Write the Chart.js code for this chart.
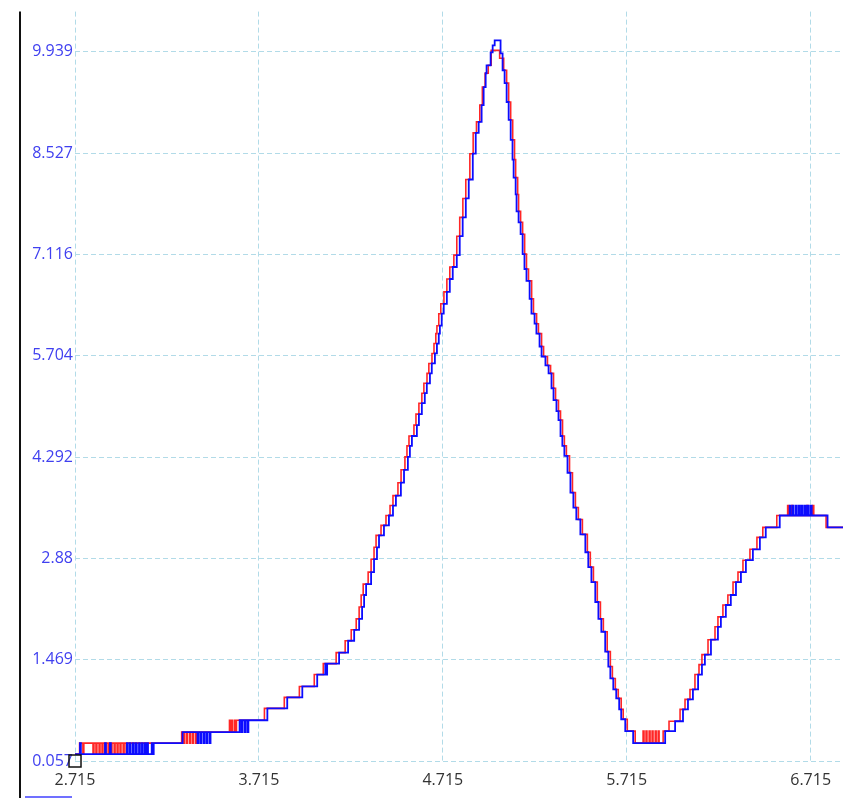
<!DOCTYPE html>
<html>
<head>
<meta charset="utf-8">
<script src="https://cdn.jsdelivr.net/npm/chart.js@4.4.1/dist/chart.umd.min.js"></script>
<style>
  body { margin: 0; background: #fff; }
  #wrap { width: 866px; height: 798px; }
</style>
</head>
<body>
<div id="wrap"><canvas id="canvas" width="866" height="798"></canvas></div>
<script>
// tick values and labels
var xTicks = [2.715, 3.715, 4.715, 5.715, 6.715];
var xTickLabels = ['2.715', '3.715', '4.715', '5.715', '6.715'];
var yTicks = [0.057, 1.469, 2.88, 4.292, 5.704, 7.116, 8.527, 9.939];
var yTickLabels = ['0.057', '1.469', '2.88', '4.292', '5.704', '7.116', '8.527', '9.939'];
var xRange = [2.715, 6.891];
var yRange = [0.057, 10.50];

// cursor marker
var markerPt = [2.715, 0.057];

// blue trace [x, y]
var bluePts = [
  [2.715,0.154],[2.742,0.306],[2.747,0.154],[2.878,0.306],[2.883,0.154],[2.905,0.306],[2.910,0.154],
  [2.997,0.306],[3.002,0.154],[3.013,0.306],[3.018,0.154],[3.030,0.306],[3.035,0.154],[3.046,0.306],[3.051,0.154],
  [3.063,0.306],[3.068,0.154],[3.079,0.306],[3.084,0.154],[3.095,0.306],[3.100,0.154],[3.107,0.306],[3.112,0.154],
  [3.132,0.306],[3.137,0.154],[3.143,0.306],
  [3.300,0.459],[3.381,0.306],[3.386,0.459],[3.397,0.306],[3.402,0.459],[3.414,0.306],[3.419,0.459],[3.430,0.306],
  [3.435,0.459],[3.447,0.306],[3.452,0.459],
  [3.610,0.625],[3.620,0.459],[3.625,0.625],[3.637,0.459],[3.642,0.625],[3.653,0.459],[3.658,0.625],
  [3.761,0.791],[3.869,0.943],[3.951,1.096],[4.032,1.262],[4.076,1.414],[4.081,1.262],[4.086,1.414],[4.151,1.567],
  [4.200,1.733],[4.233,1.885],[4.260,2.038],[4.276,2.204],[4.287,2.370],[4.298,2.522],[4.325,2.689],[4.341,2.869],
  [4.357,3.035],[4.368,3.201],[4.395,3.340],[4.422,3.478],[4.444,3.617],[4.460,3.755],[4.487,3.935],[4.504,4.115],
  [4.525,4.295],[4.536,4.448],[4.547,4.586],[4.574,4.738],[4.585,4.891],[4.601,5.043],[4.617,5.182],[4.628,5.320],
  [4.645,5.459],[4.655,5.597],[4.672,5.736],[4.683,5.874],[4.693,6.013],[4.699,6.123],[4.709,6.290],[4.720,6.428],
  [4.737,6.594],[4.753,6.774],[4.769,6.941],[4.791,7.107],[4.807,7.370],[4.823,7.633],[4.840,7.896],[4.856,8.160],
  [4.878,8.520],[4.894,8.810],[4.910,8.963],[4.926,9.198],[4.937,9.448],[4.948,9.641],[4.953,9.752],[4.975,9.932],
  [4.986,10.029],[4.997,10.098],
  [5.029,9.918],[5.040,9.683],[5.051,9.503],[5.062,9.240],[5.073,8.990],[5.084,8.713],[5.094,8.437],[5.100,8.187],
  [5.111,7.952],[5.116,7.716],[5.127,7.564],[5.138,7.398],[5.149,7.121],[5.159,6.913],[5.170,6.747],[5.187,6.497],
  [5.197,6.290],[5.214,6.151],[5.224,6.013],[5.241,5.833],[5.252,5.694],[5.273,5.569],[5.290,5.459],[5.306,5.251],
  [5.317,5.085],[5.333,4.932],[5.344,4.808],[5.355,4.586],[5.365,4.448],[5.376,4.309],[5.393,4.074],[5.409,3.797],
  [5.425,3.589],[5.441,3.423],[5.463,3.215],[5.490,2.966],[5.506,2.758],[5.523,2.550],[5.544,2.273],[5.561,2.038],
  [5.577,1.858],[5.598,1.581],[5.615,1.373],[5.626,1.207],[5.642,1.054],[5.658,0.930],[5.674,0.777],[5.685,0.639],
  [5.707,0.473],[5.750,0.306],
  [5.924,0.473],[5.978,0.611],[6.021,0.777],[6.048,0.916],[6.075,1.054],[6.103,1.262],[6.124,1.400],[6.140,1.539],
  [6.173,1.747],[6.211,1.927],[6.227,2.065],[6.254,2.231],[6.281,2.370],[6.309,2.550],[6.336,2.689],[6.363,2.855],
  [6.401,3.007],[6.439,3.173],[6.471,3.312],[6.547,3.478],
  [6.601,3.617],[6.606,3.478],[6.617,3.617],[6.622,3.478],[6.634,3.617],[6.639,3.478],[6.650,3.617],[6.657,3.478],
  [6.667,3.617],[6.672,3.478],[6.683,3.617],[6.690,3.478],[6.700,3.617],[6.705,3.478],[6.716,3.617],[6.721,3.478],
  [6.807,3.312],[6.891,3.312]
];

// red trace [x, y]
var redPts = [
  [2.715,0.154],[2.740,0.306],[2.758,0.154],[2.763,0.306],
  [2.813,0.154],[2.818,0.306],[2.829,0.154],[2.834,0.306],[2.846,0.154],[2.851,0.306],[2.862,0.154],[2.867,0.306],
  [2.879,0.154],[2.884,0.306],[2.895,0.154],[2.900,0.306],[2.911,0.154],[2.916,0.306],[2.928,0.154],[2.933,0.306],
  [2.944,0.154],[2.949,0.306],[2.960,0.154],[2.965,0.306],[2.977,0.154],[2.982,0.306],[2.993,0.154],[2.998,0.306],
  [3.295,0.459],[3.306,0.306],[3.311,0.459],[3.322,0.306],[3.327,0.459],[3.339,0.306],[3.344,0.459],[3.355,0.306],
  [3.360,0.459],[3.372,0.306],[3.377,0.459],
  [3.555,0.625],[3.560,0.459],[3.566,0.625],[3.571,0.459],[3.582,0.625],[3.587,0.459],[3.593,0.625],
  [3.745,0.791],[3.853,0.943],[3.935,1.096],[4.016,1.262],[4.065,1.414],[4.135,1.567],[4.184,1.733],[4.217,1.885],
  [4.244,2.038],[4.260,2.204],[4.271,2.370],[4.282,2.522],[4.309,2.689],[4.325,2.869],[4.341,3.035],[4.352,3.201],
  [4.379,3.340],[4.406,3.478],[4.428,3.617],[4.444,3.755],[4.471,3.935],[4.488,4.115],[4.509,4.295],[4.520,4.448],
  [4.531,4.586],[4.558,4.738],[4.569,4.891],[4.585,5.043],[4.601,5.182],[4.612,5.320],[4.629,5.459],[4.639,5.597],
  [4.656,5.736],[4.667,5.874],[4.677,6.013],[4.683,6.123],[4.693,6.290],[4.704,6.428],[4.721,6.594],[4.737,6.774],
  [4.753,6.941],[4.775,7.107],[4.791,7.370],[4.807,7.633],[4.824,7.896],[4.840,8.160],[4.862,8.520],[4.880,8.810],
  [4.898,8.963],[4.916,9.198],[4.930,9.448],[4.945,9.641],[4.962,9.752],[4.978,9.960],
  [5.024,9.850],[5.046,9.683],[5.062,9.503],[5.073,9.240],[5.084,8.990],[5.095,8.713],[5.105,8.437],[5.111,8.187],
  [5.122,7.952],[5.127,7.716],[5.138,7.564],[5.149,7.398],[5.160,7.121],[5.170,6.913],[5.181,6.747],[5.198,6.497],
  [5.208,6.290],[5.225,6.151],[5.235,6.013],[5.252,5.833],[5.263,5.694],[5.284,5.569],[5.301,5.459],[5.317,5.251],
  [5.328,5.085],[5.344,4.932],[5.355,4.808],[5.366,4.586],[5.376,4.448],[5.387,4.309],[5.404,4.074],[5.420,3.797],
  [5.436,3.589],[5.452,3.423],[5.474,3.215],[5.501,2.966],[5.517,2.758],[5.534,2.550],[5.555,2.273],[5.572,2.038],
  [5.588,1.858],[5.609,1.581],[5.626,1.373],[5.637,1.207],[5.653,1.054],[5.669,0.930],[5.685,0.777],[5.696,0.639],
  [5.718,0.473],[5.761,0.306],
  [5.804,0.473],[5.809,0.306],[5.820,0.473],[5.825,0.306],[5.837,0.473],[5.842,0.306],[5.853,0.473],[5.858,0.306],
  [5.870,0.473],[5.875,0.306],[5.886,0.473],[5.891,0.306],
  [5.913,0.473],[5.945,0.611],[6.005,0.777],[6.032,0.916],[6.059,1.054],[6.086,1.262],[6.108,1.400],[6.124,1.539],
  [6.157,1.747],[6.195,1.927],[6.211,2.065],[6.238,2.231],[6.265,2.370],[6.293,2.550],[6.320,2.689],[6.347,2.855],
  [6.385,3.007],[6.423,3.173],[6.455,3.312],[6.531,3.478],
  [6.590,3.617],[6.595,3.478],[6.612,3.617],[6.617,3.478],[6.695,3.617],[6.700,3.478],[6.727,3.617],[6.732,3.478],
  [6.799,3.312],[6.891,3.312]
];

function toXY(pts) {
  return pts.map(function (p) { return { x: p[0], y: p[1] }; });
}

var gridColor = '#b2dbe8';

// left frame line + small strip at the bottom
var framePlugin = {
  id: 'frame',
  afterDraw: function (chart) {
    var c = chart.ctx;
    var ys = chart.scales.y;
    c.save();
    c.strokeStyle = '#111';
    c.lineWidth = 2;
    c.beginPath();
    c.moveTo(ys.left, chart.chartArea.top);
    c.lineTo(ys.left, chart.height);
    c.stroke();
    c.strokeStyle = '#7070ff';
    c.beginPath();
    c.moveTo(ys.left + 5, chart.height - 1);
    c.lineTo(ys.right - 3, chart.height - 1);
    c.stroke();
    c.restore();
  }
};

var ctx = document.getElementById('canvas').getContext('2d');
var myChart = new Chart(ctx, {
  type: 'line',
  data: {
    datasets: [{
      label: 'marker',
      data: toXY([markerPt]),
      showLine: false,
      pointStyle: 'rect',
      pointRadius: 8.5,
      pointBorderColor: '#111',
      pointBorderWidth: 1.5,
      pointBackgroundColor: 'rgba(255,255,255,0)',
      clip: false,
      order: 0
    }, {
      label: 'blue',
      data: toXY(bluePts),
      stepped: true,
      borderColor: '#0c0cff',
      borderWidth: 1.8,
      pointRadius: 0,
      fill: false,
      order: 1
    }, {
      label: 'red',
      data: toXY(redPts),
      stepped: true,
      borderColor: '#ff2626',
      borderWidth: 1.6,
      pointRadius: 0,
      fill: false,
      order: 2
    }]
  },
  options: {
    responsive: false,
    animation: false,
    layout: { padding: { left: 20, right: 23, top: 5, bottom: 0 } },
    plugins: {
      legend: { display: false },
      tooltip: { enabled: false }
    },
    scales: {
      x: {
        type: 'linear',
        min: xRange[0],
        max: xRange[1],
        afterBuildTicks: function (scale) {
          scale.ticks = xTicks.map(function (v) { return { value: v }; });
        },
        afterFit: function (scale) { scale.height = 37; },
        border: { display: false, dash: [5, 3] },
        grid: { color: gridColor, lineWidth: 1, drawTicks: false },
        ticks: {
          autoSkip: false,
          maxRotation: 0,
          padding: 10,
          color: '#333',
          font: { family: 'Open Sans', size: 16 },
          callback: function (value, index) { return xTickLabels[index]; }
        }
      },
      y: {
        type: 'linear',
        min: yRange[0],
        max: yRange[1],
        afterBuildTicks: function (scale) {
          scale.ticks = yTicks.map(function (v) { return { value: v }; });
        },
        afterFit: function (scale) { scale.width = 55; },
        border: { display: false, dash: [5, 3] },
        grid: { color: gridColor, lineWidth: 1, drawTicks: false },
        ticks: {
          autoSkip: false,
          padding: 2,
          color: '#4040f0',
          font: { family: 'Open Sans', size: 16 },
          callback: function (value, index) { return yTickLabels[index]; }
        }
      }
    }
  },
  plugins: [framePlugin]
});
</script>
</body>
</html>
